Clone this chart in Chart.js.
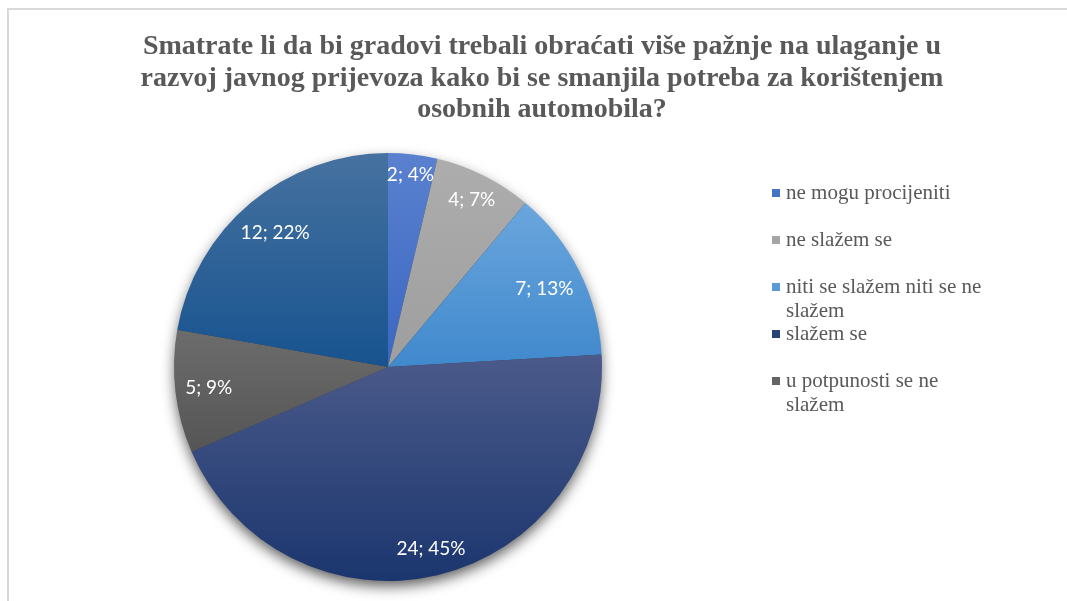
<!DOCTYPE html>
<html lang="hr">
<head>
<meta charset="utf-8">
<title>Javni prijevoz</title>
<script src="https://cdn.jsdelivr.net/npm/chart.js@4.4.4/dist/chart.umd.min.js"></script>
<style>
  html, body { margin: 0; padding: 0; background: #fff; overflow: hidden; }
  #wrap { position: absolute; left: 0; top: 0; width: 1067px; height: 601px; }
  .frame {
    position: absolute; left: 7px; top: 8px; right: 0; bottom: 0;
    border-top: 2px solid #d9d9d9; border-left: 2px solid #d9d9d9;
    pointer-events: none;
  }
</style>
</head>
<body>
<div id="wrap"><canvas id="pie"></canvas></div>
<div class="frame"></div>
<script>
const titleLines = [
  'Smatrate li da bi gradovi trebali obraćati više pažnje na ulaganje u',
  'razvoj javnog prijevoza kako bi se smanjila potreba za korištenjem',
  'osobnih automobila?'
];
const categories = [
  'ne mogu procijeniti',
  'ne slažem se',
  'niti se slažem niti se ne slažem',
  'slažem se',
  'u potpunosti se ne slažem',
  'u potpunosti se slažem'
];
const counts = [2, 4, 7, 24, 5, 12];
const percents = [4, 7, 13, 45, 9, 22];

// office-like palette, each slice fades from a lighter top to a darker bottom
const baseColors = ['#4472c4', '#a5a5a5', '#5b9bd5', '#264478', '#636363', '#255e91'];
const topColors = ['#5a81cf', '#adadad', '#6ba6dd', '#4b5a8a', '#6c6c6c', '#4672a0'];
const bottomColors = ['#3a67c2', '#9e9e9e', '#4089cd', '#1b366e', '#555555', '#17538f'];

const TEXT_GREY = '#595959';

function sliceGradient(context) {
  const i = context.dataIndex;
  const chart = context.chart;
  const area = chart.chartArea;
  if (!area || !area.width) return baseColors[i];
  const cx = (area.left + area.right) / 2;
  const cy = (area.top + area.bottom) / 2;
  const r = Math.min(area.width, area.height) / 2;
  const total = counts.reduce((a, b) => a + b, 0);
  let before = 0;
  for (let k = 0; k < i; k++) before += counts[k];
  const a0 = before / total * Math.PI * 2;
  const a1 = (before + counts[i]) / total * Math.PI * 2;
  const ys = [cy, cy - r * Math.cos(a0), cy - r * Math.cos(a1)];
  if (a0 <= 0 || a1 >= Math.PI * 2 - 1e-9) ys.push(cy - r);
  if (a0 < Math.PI && a1 > Math.PI) ys.push(cy + r);
  const y0 = Math.min(...ys), y1 = Math.max(...ys);
  const g = chart.ctx.createLinearGradient(0, y0, 0, y1);
  g.addColorStop(0, topColors[i]);
  g.addColorStop(1, bottomColors[i]);
  return g;
}

const pieShadow = {
  id: 'pieShadow',
  beforeDatasetsDraw(chart) {
    const arc = chart.getDatasetMeta(0).data[0];
    if (!arc) return;
    const { x, y, outerRadius } = arc.getProps(['x', 'y', 'outerRadius'], true);
    const ctx = chart.ctx;
    ctx.save();
    ctx.shadowColor = 'rgba(0,0,0,0.65)';
    ctx.shadowBlur = 14;
    ctx.shadowOffsetY = 6;
    ctx.beginPath();
    ctx.arc(x, y, outerRadius - 1, 0, Math.PI * 2);
    ctx.fillStyle = '#3a3a3a';
    ctx.fill();
    ctx.restore();
  }
};

// "count; percent" inside each slice, pushed out until its box nearly touches the rim
const sliceLabels = {
  id: 'sliceLabels',
  afterDatasetsDraw(chart) {
    const ctx = chart.ctx;
    const meta = chart.getDatasetMeta(0);
    ctx.save();
    ctx.font = '19px Lato, "Open Sans", sans-serif';
    ctx.fillStyle = '#ffffff';
    ctx.textAlign = 'center';
    ctx.textBaseline = 'middle';
    meta.data.forEach((arc, i) => {
      const p = arc.getProps(['x', 'y', 'startAngle', 'endAngle', 'outerRadius'], true);
      const text = counts[i] + '; ' + percents[i] + '%';
      const hw = ctx.measureText(text).width / 2;
      const hh = 8;
      const mid = (p.startAngle + p.endAngle) / 2;
      const ux = Math.cos(mid), uy = Math.sin(mid);
      const limit = p.outerRadius - 9;
      let d = limit;
      while (d > 0) {
        const cxr = d * ux + Math.sign(ux) * hw;
        const cyr = d * uy + Math.sign(uy) * hh;
        if (Math.hypot(cxr, cyr) <= limit) break;
        d -= 0.5;
      }
      ctx.fillText(text, p.x + d * ux, p.y + d * uy);
    });
    ctx.restore();
  }
};

const titleAndLegend = {
  id: 'titleAndLegend',
  afterDraw(chart) {
    const ctx = chart.ctx;
    ctx.save();
    ctx.fillStyle = TEXT_GREY;
    ctx.textAlign = 'center';
    ctx.textBaseline = 'middle';
    ctx.font = 'bold 28px "Liberation Serif", "Times New Roman", serif';
    titleLines.forEach((line, k) => ctx.fillText(line, 542, 47 + k * 31.5));

    // legend on the right, wrapped at a fixed width; entries that do not fit the box are dropped
    ctx.textAlign = 'left';
    ctx.font = '21px "Liberation Serif", "Times New Roman", serif';
    const boxBottom = 425, pitch = 47, lineH = 24, maxW = 206;
    let y = 193;
    categories.forEach((name, i) => {
      const words = name.split(' ');
      const lines = [];
      let cur = '';
      words.forEach(w => {
        const test = cur ? cur + ' ' + w : w;
        if (cur && ctx.measureText(test).width > maxW) { lines.push(cur); cur = w; }
        else cur = test;
      });
      lines.push(cur);
      if (y + (lines.length - 1) * lineH + 10 > boxBottom) { y += pitch; return; }
      ctx.fillStyle = baseColors[i];
      ctx.fillRect(772, y - 4, 8, 8);
      ctx.fillStyle = TEXT_GREY;
      lines.forEach((l, k) => ctx.fillText(l, 786, y + k * lineH));
      y += pitch;
    });
    ctx.restore();
  }
};

new Chart(document.getElementById('pie'), {
  type: 'pie',
  data: {
    labels: categories,
    datasets: [{
      data: counts,
      backgroundColor: sliceGradient,
      borderWidth: 0
    }]
  },
  options: {
    responsive: true,
    maintainAspectRatio: false,
    animation: false,
    layout: { padding: { left: 174, right: 465, top: 153, bottom: 20 } },
    plugins: {
      legend: { display: false },
      title: { display: false },
      tooltip: { enabled: false }
    }
  },
  plugins: [pieShadow, sliceLabels, titleAndLegend]
});
</script>
</body>
</html>
